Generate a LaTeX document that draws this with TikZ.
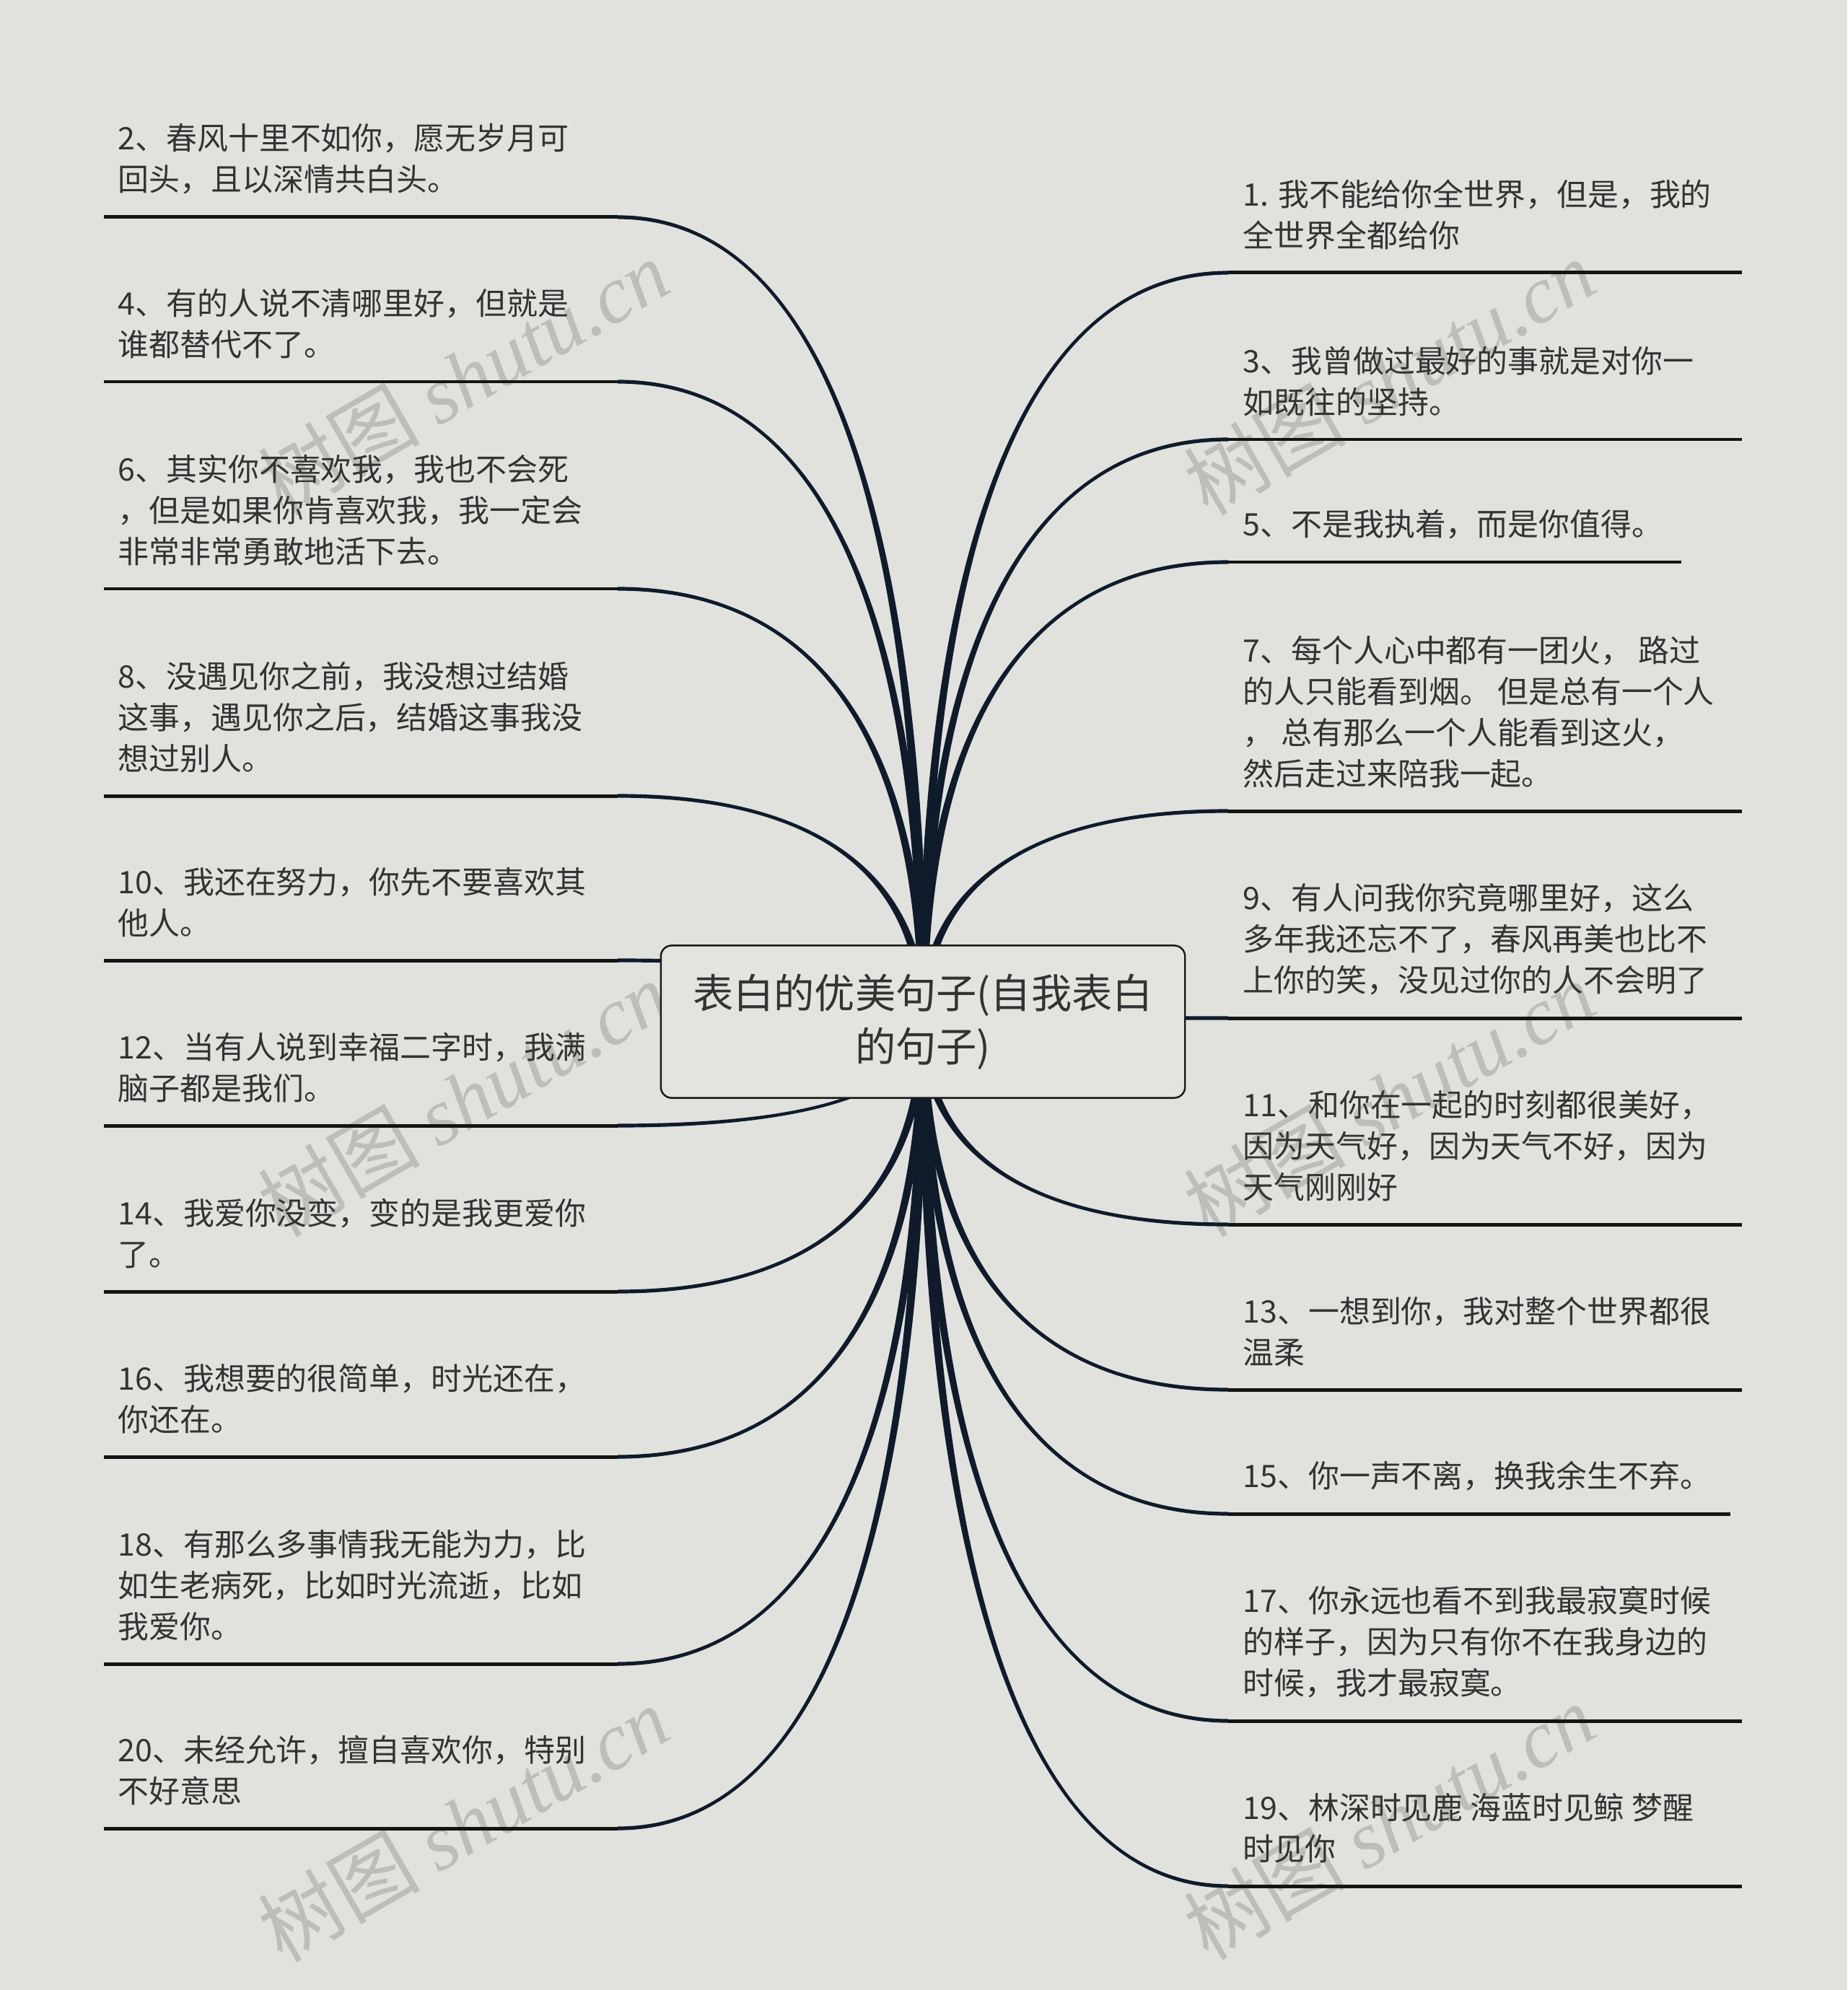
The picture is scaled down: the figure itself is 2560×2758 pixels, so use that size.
\documentclass[tikz,border=0pt]{standalone}
\usepackage{fontspec}
\setmainfont{Noto Sans CJK SC}
\newfontfamily\wmlatin{Liberation Serif}
\usetikzlibrary{calc}
\pgfdeclarelayer{bg}
\pgfsetlayers{bg,main}
\definecolor{bgcol}{HTML}{E1E2DD}
\definecolor{txtcol}{HTML}{333333}
\definecolor{linecol}{HTML}{0F1B2B}
\definecolor{ulcol}{HTML}{141414}
\definecolor{wmcol}{HTML}{BDBEB9}
\definecolor{boxfill}{HTML}{E3E4DF}
\newcommand{\cwa}{6}
\newcommand{\cwb}{2.6}
% #1 end coordinate, #2 sign of end offset
\newcommand{\drawconn}[2]{%
  \fill[linecol] ($(c.center)+(-\cwa,0)$)
    .. controls ($(c.center)!0.6!(c.center |- #1)+(-\cwa,0)$)
    and ($(#1)!0.7!(c.center |- #1)+(0,{(#2)*\cwb})$)
    .. ($(#1)+(0,{(#2)*\cwb})$)
    -- ($(#1)+(0,{-(#2)*\cwb})$)
    .. controls ($(#1)!0.7!(c.center |- #1)+(0,{-(#2)*\cwb})$)
    and ($(c.center)!0.6!(c.center |- #1)+(\cwa,0)$)
    .. ($(c.center)+(\cwa,0)$) -- cycle;}
\begin{document}
\begin{tikzpicture}[x=0.01cm,y=-0.01cm,
  leaf/.style={anchor=south west, inner sep=0pt, align=left, text=txtcol,
    font=\fontsize{12.2pt}{16.2pt}\selectfont},
  centerbox/.style={draw=black!90, line width=0.7pt, rounded corners=0.15cm,
    fill=boxfill, minimum width=7.26cm, minimum height=2.11cm, inner sep=0pt,
    align=center, text=txtcol, font=\fontsize{16pt}{21pt}\selectfont},
  uline/.style={draw=ulcol, line width=1.42pt},
  wm/.style={text=wmcol, rotate=30, inner sep=0pt,
    font=\fontsize{32pt}{36pt}\selectfont}]
\useasboundingbox (0,0) rectangle (2560,2758);

% central node
\node[centerbox] (c) at (1279,1416) {表白的优美句子(自我表白\\的句子)};

% underline end points, left side
\coordinate (L2a) at (144,301);   \coordinate (L2b) at (856,301);
\coordinate (L4a) at (144,529);   \coordinate (L4b) at (856,529);
\coordinate (L6a) at (144,816);   \coordinate (L6b) at (856,816);
\coordinate (L8a) at (144,1103);  \coordinate (L8b) at (856,1103);
\coordinate (L10a) at (144,1331); \coordinate (L10b) at (856,1331);
\coordinate (L12a) at (144,1560); \coordinate (L12b) at (856,1560);
\coordinate (L14a) at (144,1790); \coordinate (L14b) at (856,1790);
\coordinate (L16a) at (144,2019); \coordinate (L16b) at (856,2019);
\coordinate (L18a) at (144,2306); \coordinate (L18b) at (856,2306);
\coordinate (L20a) at (144,2534); \coordinate (L20b) at (856,2534);
% right side
\coordinate (R1a) at (1702,378);   \coordinate (R1b) at (2414,378);
\coordinate (R3a) at (1702,609);   \coordinate (R3b) at (2414,609);
\coordinate (R5a) at (1702,779);   \coordinate (R5b) at (2330,779);
\coordinate (R7a) at (1702,1124);  \coordinate (R7b) at (2414,1124);
\coordinate (R9a) at (1702,1411);  \coordinate (R9b) at (2414,1411);
\coordinate (R11a) at (1702,1697); \coordinate (R11b) at (2414,1697);
\coordinate (R13a) at (1702,1926); \coordinate (R13b) at (2414,1926);
\coordinate (R15a) at (1702,2098); \coordinate (R15b) at (2398,2098);
\coordinate (R17a) at (1702,2385); \coordinate (R17b) at (2414,2385);
\coordinate (R19a) at (1702,2614); \coordinate (R19b) at (2414,2614);

\begin{pgfonlayer}{bg}
  \fill[bgcol] (0,0) rectangle (2560,2758);
  % watermarks
  \node[wm] (w1) at (642,522)   {树图 {\wmlatin\itshape shutu.cn}};
  \node[wm] (w2) at (1925,522)  {树图 {\wmlatin\itshape shutu.cn}};
  \node[wm] (w3) at (642,1522)  {树图 {\wmlatin\itshape shutu.cn}};
  \node[wm] (w4) at (1925,1522) {树图 {\wmlatin\itshape shutu.cn}};
  \node[wm] (w5) at (642,2527)  {树图 {\wmlatin\itshape shutu.cn}};
  \node[wm] (w6) at (1925,2524) {树图 {\wmlatin\itshape shutu.cn}};
  % connectors
  \drawconn{L2b}{1}  \drawconn{L4b}{1}  \drawconn{L6b}{1}
  \drawconn{L8b}{1}  \drawconn{L10b}{1}
  \drawconn{L12b}{-1} \drawconn{L14b}{-1} \drawconn{L16b}{-1}
  \drawconn{L18b}{-1} \drawconn{L20b}{-1}
  \drawconn{R1a}{-1} \drawconn{R3a}{-1} \drawconn{R5a}{-1}
  \drawconn{R7a}{-1} \drawconn{R9a}{-1}
  \drawconn{R11a}{1} \drawconn{R13a}{1} \drawconn{R15a}{1}
  \drawconn{R17a}{1} \drawconn{R19a}{1}
\end{pgfonlayer}

% underlines
\foreach \n in {L2,L4,L6,L8,L10,L12,L14,L16,L18,L20,R1,R3,R5,R7,R9,R11,R13,R15,R17,R19}
  \draw[uline] (\n a) -- (\n b);

% left texts
\node[leaf] (t2)  at (163,270)  {2、春风十里不如你，愿无岁月可\\回头，且以深情共白头。};
\node[leaf] (t4)  at (163,498)  {4、有的人说不清哪里好，但就是\\谁都替代不了。};
\node[leaf] (t6)  at (163,785)  {6、其实你不喜欢我，我也不会死\\，但是如果你肯喜欢我，我一定会\\非常非常勇敢地活下去。};
\node[leaf] (t8)  at (163,1072) {8、没遇见你之前，我没想过结婚\\这事，遇见你之后，结婚这事我没\\想过别人。};
\node[leaf] (t10) at (163,1300) {10、我还在努力，你先不要喜欢其\\他人。};
\node[leaf] (t12) at (163,1529) {12、当有人说到幸福二字时，我满\\脑子都是我们。};
\node[leaf] (t14) at (163,1759) {14、我爱你没变，变的是我更爱你\\了。};
\node[leaf] (t16) at (163,1988) {16、我想要的很简单，时光还在，\\你还在。};
\node[leaf] (t18) at (163,2275) {18、有那么多事情我无能为力，比\\如生老病死，比如时光流逝，比如\\我爱你。};
\node[leaf] (t20) at (163,2503) {20、未经允许，擅自喜欢你，特别\\不好意思};

% right texts
\node[leaf] (t1)  at (1722,347)  {1. 我不能给你全世界，但是，我的\\全世界全都给你};
\node[leaf] (t3)  at (1722,578)  {3、我曾做过最好的事就是对你一\\如既往的坚持。};
\node[leaf] (t5)  at (1722,748)  {5、不是我执着，而是你值得。};
\node[leaf] (t7)  at (1722,1093) {7、每个人心中都有一团火， 路过\\的人只能看到烟。 但是总有一个人\\， 总有那么一个人能看到这火，\\然后走过来陪我一起。};
\node[leaf] (t9)  at (1722,1380) {9、有人问我你究竟哪里好，这么\\多年我还忘不了，春风再美也比不\\上你的笑，没见过你的人不会明了};
\node[leaf] (t11) at (1722,1666) {11、和你在一起的时刻都很美好，\\因为天气好，因为天气不好，因为\\天气刚刚好};
\node[leaf] (t13) at (1722,1895) {13、一想到你，我对整个世界都很\\温柔};
\node[leaf] (t15) at (1722,2067) {15、你一声不离，换我余生不弃。};
\node[leaf] (t17) at (1722,2354) {17、你永远也看不到我最寂寞时候\\的样子，因为只有你不在我身边的\\时候，我才最寂寞。};
\node[leaf] (t19) at (1722,2583) {19、林深时见鹿 海蓝时见鲸 梦醒\\时见你};
\end{tikzpicture}
\end{document}
